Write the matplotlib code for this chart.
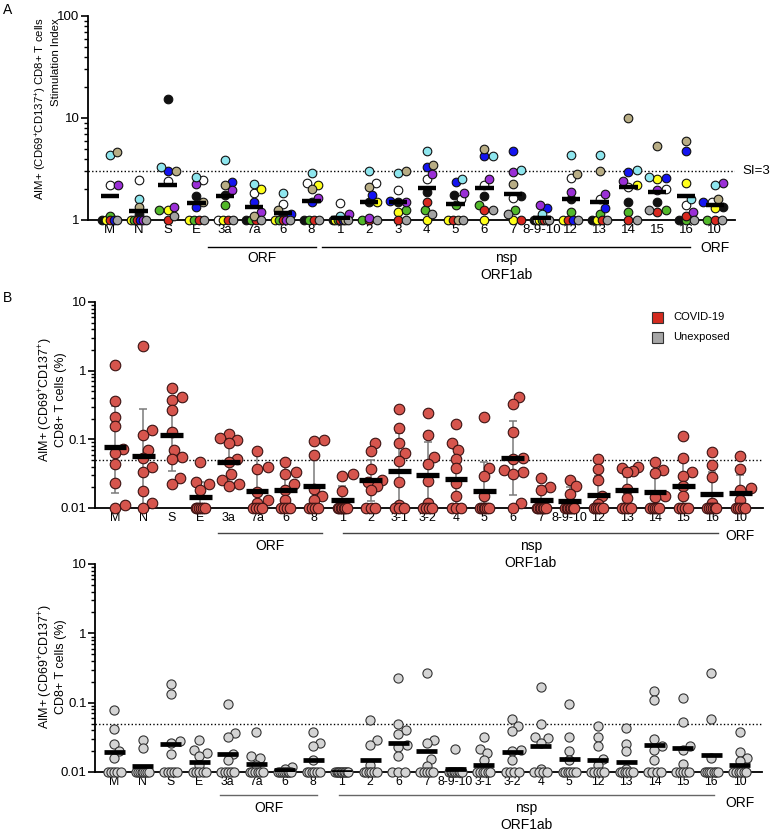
import numpy as np
import matplotlib
matplotlib.use('Agg')
import matplotlib.pyplot as plt
import matplotlib.transforms as mtrans
from matplotlib.patches import Rectangle
from matplotlib.ticker import LogLocator, NullFormatter

plt.rcParams['font.family'] = ['Liberation Sans', 'DejaVu Sans']
plt.rcParams['mathtext.fontset'] = 'custom'
plt.rcParams['mathtext.rm'] = 'Liberation Sans'
plt.rcParams['mathtext.it'] = 'Liberation Sans:italic'
plt.rcParams['mathtext.default'] = 'regular'

# ---------------- DATA ----------------
cats_A = ['M', 'N', 'S', 'E', '3a', '7a', '6', '8', '1', '2', '3', '4', '5', '6', '7',
          '8-9-10', '12', '13', '14', '15', '16', '10']
donor_colors = ['#111111', '#ffffff', '#ffff1a', '#52b82a', '#d8281e',
                '#1414f0', '#9a2fd6', '#8ee6ee', '#b8ad85', '#a3a3a3']
# stimulation index per donor (black, white, yellow, green, red, blue, purple, cyan, tan, gray)
si_black  = [1, 1.15, 15.5, 1.7, 1.75, 1, 1.1, 1, 1, 1.5, 1.5, 1.9, 1.75, 1.7, 1.7, 1, 1.6, 1, 1.5, 1.5, 1, 1.35]
si_white  = [2.2, 2.45, 2.4, 2.45, 1, 1.85, 1.45, 2.3, 1.48, 2.3, 1.95, 2.5, 1.6, 2.2, 1.65, 1, 2.6, 1.6, 2.1, 2.0, 1.4, 1.5]
si_yellow = [1, 1, 1.25, 1, 1, 2.0, 1, 2.2, 1, 1.5, 1.2, 1, 1, 1, 1, 1, 1, 1, 2.2, 2.55, 2.3, 1.3]
si_green  = [1.1, 1, 1.25, 1, 1.4, 1, 1, 1, 1, 1, 1.25, 1.25, 1.4, 1.4, 1.25, 1, 1.2, 1.15, 1.2, 1.25, 1, 1]
si_red    = [1, 1, 1, 1, 1, 1, 1, 1, 1, 1, 1, 1.5, 1, 1.25, 1, 1, 1, 1, 1, 1.2, 1.1, 1]
si_blue   = [1, 1, 3.0, 1.35, 2.35, 1.5, 1.15, 1.5, 1, 1.75, 1.55, 3.3, 2.35, 4.2, 4.7, 1.3, 1, 1.3, 2.95, 2.6, 4.8, 1.5]
si_purple = [2.2, 1, 1.35, 2.25, 1.95, 1.2, 1, 1.65, 1.15, 1.05, 1.5, 2.8, 1.85, 2.5, 2.95, 1.4, 1.9, 1.8, 2.4, 1.95, 1.2, 2.3]
si_cyan   = [4.3, 1.6, 3.3, 2.65, 3.9, 2.25, 1.85, 2.9, 1.1, 3.0, 2.9, 4.8, 2.5, 4.2, 3.1, 1.15, 4.3, 4.3, 3.1, 2.65, 1.6, 2.2]
si_tan    = [4.6, 1.35, 3.0, 1.5, 2.2, 1.1, 1.25, 2.0, 1, 2.1, 3.0, 3.5, 1, 5.0, 2.25, 1, 2.85, 3.0, 10.0, 5.3, 6.0, 1.6]
si_gray   = [1, 1, 1.1, 1, 1, 1, 1, 1, 1, 1, 1, 1.15, 1, 1.25, 1.15, 1, 1, 1, 1, 1.25, 1, 1]
bar_A = [1.7, 1.22, 2.2, 1.48, 1.7, 1.33, 1.16, 1.54, 1.05, 1.5, 1.5, 2.08, 1.45, 2.05,
         1.8, 1.05, 1.6, 1.5, 2.1, 1.9, 1.7, 1.4]

cats_B = ['M', 'N', 'S', 'E', '3a', '7a', '6', '8', '1', '2', '3-1', '3-2', '4', '5', '6',
          '7', '8-9-10', '12', '13', '14', '15', '16', '10']
covid_vals = [
    [1.2, 0.366, 0.214, 0.157, 0.072, 0.063, 0.0435, 0.023, 0.01, 0.011],
    [2.27, 0.137, 0.116, 0.070, 0.053, 0.040, 0.033, 0.0175, 0.012, 0.01],
    [0.55, 0.42, 0.38, 0.267, 0.13, 0.07, 0.055, 0.052, 0.027, 0.0225],
    [0.047, 0.024, 0.022, 0.018, 0.01, 0.01, 0.01, 0.01, 0.01, 0.01],
    [0.12, 0.104, 0.098, 0.088, 0.052, 0.046, 0.031, 0.026, 0.022, 0.021],
    [0.068, 0.040, 0.037, 0.017, 0.013, 0.012, 0.01, 0.01, 0.01, 0.01],
    [0.047, 0.033, 0.031, 0.022, 0.018, 0.013, 0.01, 0.01, 0.01, 0.01],
    [0.098, 0.093, 0.059, 0.019, 0.015, 0.013, 0.01, 0.01, 0.01, 0.01],
    [0.031, 0.029, 0.0175, 0.01, 0.01, 0.01, 0.01, 0.01, 0.01, 0.01],
    [0.088, 0.068, 0.037, 0.026, 0.024, 0.021, 0.018, 0.01, 0.01, 0.01],
    [0.28, 0.145, 0.088, 0.063, 0.049, 0.024, 0.011, 0.01, 0.01, 0.01],
    [0.24, 0.116, 0.055, 0.044, 0.025, 0.012, 0.01, 0.01, 0.01, 0.01],
    [0.167, 0.088, 0.070, 0.052, 0.038, 0.0235, 0.015, 0.01, 0.01, 0.01],
    [0.21, 0.038, 0.029, 0.015, 0.01, 0.01, 0.01, 0.01, 0.01, 0.01],
    [0.41, 0.33, 0.127, 0.053, 0.052, 0.036, 0.034, 0.031, 0.012, 0.01],
    [0.027, 0.0202, 0.018, 0.01, 0.01, 0.01, 0.01, 0.01, 0.01, 0.01],
    [0.026, 0.0206, 0.016, 0.01, 0.01, 0.01, 0.01, 0.01, 0.01, 0.01],
    [0.052, 0.037, 0.0258, 0.015, 0.0115, 0.01, 0.01, 0.01, 0.01, 0.01],
    [0.04, 0.038, 0.035, 0.033, 0.019, 0.014, 0.01, 0.01, 0.01, 0.01],
    [0.047, 0.036, 0.032, 0.015, 0.0145, 0.01, 0.01, 0.01, 0.01, 0.01],
    [0.11, 0.054, 0.034, 0.029, 0.0206, 0.015, 0.01, 0.01, 0.01, 0.01],
    [0.066, 0.043, 0.028, 0.012, 0.01, 0.01, 0.01, 0.01, 0.01, 0.01],
    [0.057, 0.037, 0.0195, 0.018, 0.013, 0.01, 0.01, 0.01, 0.01, 0.01],
]
bar_B = [0.078, 0.058, 0.116, 0.0145, 0.0475, 0.0175, 0.0185, 0.0206, 0.0132, 0.0258, 0.035,
         0.0305, 0.0264, 0.0178, 0.053, 0.013, 0.0125, 0.0154, 0.018, 0.0169, 0.021, 0.016, 0.0165]
err_hi_B = [0.305, 0.273, 0.353, 0.024, 0.1, 0.068, 0.047, 0.05, 0.0206, 0.05, 0.123, 0.09,
            0.072, 0.047, 0.188, 0.021, 0.02, 0.029, 0.028, 0.036, 0.047, 0.033, 0.03]
err_lo_B = [0.0165, 0.005, 0.035, 0.008, 0.0231, 0.005, 0.005, 0.005, 0.008, 0.0125, 0.005,
            0.005, 0.005, 0.005, 0.0153, 0.008, 0.008, 0.005, 0.005, 0.005, 0.005, 0.005, 0.005]

cats_C = ['M', 'N', 'S', 'E', '3a', '7a', '6', '8', '1', '2', '6', '7', '8-9-10', '3-1', '3-2',
          '4', '5', '12', '13', '14', '15', '16', '10']
unexp_vals = [
    [0.078, 0.042, 0.0253, 0.0198, 0.016, 0.01, 0.01, 0.01, 0.01, 0.01],
    [0.0286, 0.022, 0.01, 0.01, 0.01, 0.01, 0.01, 0.01, 0.01, 0.01],
    [0.188, 0.135, 0.028, 0.026, 0.0184, 0.01, 0.01, 0.01, 0.01, 0.01],
    [0.0286, 0.021, 0.019, 0.017, 0.0127, 0.01, 0.01, 0.01, 0.01, 0.01],
    [0.097, 0.037, 0.032, 0.0182, 0.015, 0.01, 0.01, 0.01, 0.01, 0.01],
    [0.0377, 0.0168, 0.016, 0.0127, 0.01, 0.01, 0.01, 0.01, 0.01, 0.01],
    [0.012, 0.011, 0.01, 0.01, 0.01, 0.01, 0.01, 0.01, 0.01, 0.01],
    [0.0377, 0.026, 0.0235, 0.015, 0.01, 0.01, 0.01, 0.01, 0.01, 0.01],
    [0.01, 0.01, 0.01, 0.01, 0.01, 0.01, 0.01, 0.01, 0.01, 0.01],
    [0.057, 0.0286, 0.0248, 0.0127, 0.01, 0.01, 0.01, 0.01, 0.01, 0.01],
    [0.228, 0.050, 0.0408, 0.0357, 0.0248, 0.0229, 0.0168, 0.01, 0.01, 0.01],
    [0.27, 0.0286, 0.026, 0.0154, 0.0123, 0.01, 0.01, 0.01, 0.01, 0.01],
    [0.0215, 0.01, 0.01, 0.01, 0.01, 0.01, 0.01, 0.01, 0.01, 0.01],
    [0.032, 0.0215, 0.0188, 0.015, 0.01, 0.01, 0.01, 0.01, 0.01, 0.01],
    [0.058, 0.0466, 0.0386, 0.021, 0.0198, 0.015, 0.01, 0.01, 0.01, 0.01],
    [0.168, 0.050, 0.032, 0.031, 0.026, 0.011, 0.01, 0.01, 0.01, 0.01],
    [0.097, 0.032, 0.0198, 0.015, 0.01, 0.01, 0.01, 0.01, 0.01, 0.01],
    [0.0455, 0.032, 0.0235, 0.0154, 0.0127, 0.01, 0.01, 0.01, 0.01, 0.01],
    [0.043, 0.0256, 0.0198, 0.011, 0.01, 0.01, 0.01, 0.01, 0.01, 0.01],
    [0.145, 0.11, 0.030, 0.0235, 0.0205, 0.0147, 0.01, 0.01, 0.01, 0.01],
    [0.117, 0.052, 0.024, 0.0205, 0.0132, 0.01, 0.01, 0.01, 0.01, 0.01],
    [0.27, 0.0588, 0.0159, 0.01, 0.01, 0.01, 0.01, 0.01, 0.01, 0.01],
    [0.0377, 0.0192, 0.0159, 0.0142, 0.01, 0.01, 0.01, 0.01, 0.01, 0.01],
]
bar_C = [0.0192, 0.0123, 0.0253, 0.0139, 0.0182, 0.0132, 0.0108, 0.0147, 0.01, 0.015, 0.026,
         0.0198, 0.011, 0.0128, 0.0192, 0.0235, 0.0156, 0.015, 0.0139, 0.0248, 0.0222, 0.0174, 0.0128]

# ---------------- LAYOUT ----------------
W, H = 770, 834
fig = plt.figure(figsize=(W / 100, H / 100), dpi=100)


def rect(l, t, r, b):
    return [l / W, 1 - b / H, (r - l) / W, (b - t) / H]


def offsets(vals, decade_px, diam, floor_half, max_half):
    vals = np.asarray(vals, float)
    y = np.log10(vals) * decade_px
    offs = np.zeros(len(vals))
    tied = np.zeros(len(vals), bool)
    uniq, counts = np.unique(vals, return_counts=True)
    for u, c in zip(uniq, counts):
        if c >= 3:
            idx = np.where(vals == u)[0]
            gap = min(0.9 * diam, 2 * floor_half / (c - 1))
            offs[idx] = (np.arange(c) - (c - 1) / 2) * gap
            tied[idx] = True
    free = [i for i in np.argsort(vals, kind='stable') if not tied[i]]
    placed = []
    d2 = (0.85 * diam) ** 2
    step = diam * 0.2
    for i in free:
        found = 0.0
        done = False
        for k in range(400):
            for c in ([0.0] if k == 0 else [k * step, -k * step]):
                if all((c - px) ** 2 + (y[i] - py) ** 2 >= d2 for px, py in placed):
                    found = c
                    done = True
                    break
            if done:
                break
        offs[i] = found
        placed.append((found, y[i]))
    if free:
        fi = np.array(free, int)
        m = np.abs(offs[fi]).max()
        if m > max_half:
            offs[fi] *= max_half / m
    return offs


def setup(ax, ylim, yticks, ylabels, cats, xlim, xsize):
    ax.patch.set_visible(False)
    ax.set_yscale('log')
    ax.set_ylim(*ylim)
    ax.set_xlim(*xlim)
    for s in ['top', 'right']:
        ax.spines[s].set_visible(False)
    for s in ['left', 'bottom']:
        ax.spines[s].set_linewidth(1.3)
    ax.set_yticks(yticks)
    ax.set_yticklabels(ylabels)
    ax.yaxis.set_minor_locator(LogLocator(base=10, subs=np.arange(2, 10)))
    ax.yaxis.set_minor_formatter(NullFormatter())
    ax.tick_params(axis='y', which='major', length=5, width=1.2, labelsize=9.5, pad=1)
    ax.tick_params(axis='y', which='minor', length=3, width=1.0)
    ax.set_xticks(range(len(cats)))
    ax.set_xticklabels(cats)
    ax.tick_params(axis='x', length=0, labelsize=xsize, pad=3)


def groups(ax, b_px, h_px, line_y, text_y, sub_y, spans, right_idx, right_y, lcolor):
    tr = mtrans.blended_transform_factory(ax.transData, ax.transAxes)
    ay = lambda p: (b_px - p) / h_px
    for (x0, x1, lab) in spans:
        ax.plot([x0, x1], [ay(line_y), ay(line_y)], color=lcolor, lw=1.0,
                transform=tr, clip_on=False)
        ax.text((x0 + x1) / 2, ay(text_y), lab, transform=tr, ha='center', va='center',
                fontsize=10, zorder=10)
    x0, x1, _ = spans[1]
    ax.text((x0 + x1) / 2, ay(sub_y), 'ORF1ab', transform=tr, ha='center', va='center',
            fontsize=10, zorder=10)
    ax.text(right_idx, ay(right_y), 'ORF', transform=tr, ha='center', va='center',
            fontsize=10, zorder=10)


# ---------- Panel A ----------
axA = fig.add_axes(rect(88, 16, 735, 220))
spA, decA = 28.8, 102.0
setup(axA, (1, 100), [1, 10, 100], ['1', '10', '100'], cats_A, (-0.76, 21.7), 9.5)
axA.axhline(3, color='k', lw=1.0, ls=(0, (1, 1.6)), zorder=1)
axA.text(1.012, np.log10(3) / 2, 'SI=3', transform=axA.transAxes, ha='left', va='center',
         fontsize=9.5)
donors = [si_black, si_white, si_yellow, si_green, si_red, si_blue, si_purple, si_cyan, si_tan, si_gray]
for j in range(len(cats_A)):
    vals = [d[j] for d in donors]
    off = offsets(vals, decA, 8.3, 7.5, 14) / spA
    for k, v in enumerate(vals):
        axA.plot(j + off[k], v, 'o', ms=6.2, mfc=donor_colors[k], mec='#111111', mew=0.8,
                 clip_on=False, zorder=3)
axA.hlines(bar_A, np.arange(len(cats_A)) - 0.32, np.arange(len(cats_A)) + 0.32,
           color='k', lw=3.2, zorder=5)
groups(axA, 220, 204, 247, 258, 275,
       [(4 - 0.6, 7 + 0.14, 'ORF'), (8 - 0.63, 20 + 0.14, 'nsp')], 21, 248, 'k')

# ---------- Panel B ----------
axB = fig.add_axes(rect(95, 302, 763, 508))
spB, decB = 28.4, 68.7
setup(axB, (0.01, 10), [0.01, 0.1, 1, 10], ['0.01', '0.1', '1', '10'], cats_B, (-0.70, 22.8), 9)
axB.axhline(0.05, color='k', lw=1.0, ls=(0, (1, 1.6)), zorder=1)
xB = np.arange(len(cats_B))
axB.errorbar(xB, bar_B, yerr=[np.array(bar_B) - np.array(err_lo_B),
                              np.array(err_hi_B) - np.array(bar_B)],
             fmt='none', ecolor='#7a7a7a', elinewidth=1.1, capsize=3, capthick=1.1, zorder=2)
for j, vals in enumerate(covid_vals):
    off = offsets(vals, decB, 10.5, 4.5, 11) / spB
    axB.plot(j + off, vals, 'o', ms=7.6, mfc='#d6554d', mec='#3a1212', mew=0.8,
             clip_on=False, zorder=3, ls='none')
axB.hlines(bar_B, xB - 0.4, xB + 0.4, color='k', lw=3.8, zorder=5)
groups(axB, 508, 206, 533, 546, 563,
       [(4 - 0.37, 7 + 0.29, 'ORF'), (8 + 0.03, 21 + 0.23, 'nsp')], 22, 536, '#444444')

# legend
for yc, col, lab in [(317, '#d42b1f', 'COVID-19'), (337, '#a6a6a6', 'Unexposed')]:
    fig.add_artist(Rectangle(((652) / W, 1 - (yc + 5.5) / H), 11 / W, 11 / H,
                             transform=fig.transFigure, facecolor=col, edgecolor='#333333',
                             lw=0.8))
    fig.text(673 / W, 1 - yc / H, lab, ha='left', va='center', fontsize=8)

# ---------- Panel C ----------
axC = fig.add_axes(rect(95, 564, 762, 772))
spC, decC = 28.45, 69.3
setup(axC, (0.01, 10), [0.01, 0.1, 1, 10], ['0.01', '0.1', '1', '10'], cats_C, (-0.67, 22.78), 8.8)
axC.axhline(0.05, color='k', lw=1.0, ls=(0, (1, 1.6)), zorder=1)
xC = np.arange(len(cats_C))
for j, vals in enumerate(unexp_vals):
    off = offsets(vals, decC, 9.0, 6.5, 11) / spC
    axC.plot(j + off, vals, 'o', ms=6.6, mfc='#d4d4d4', mec='#333333', mew=0.8,
             clip_on=False, zorder=3, ls='none')
axC.hlines(bar_C, xC - 0.37, xC + 0.37, color='k', lw=3.4, zorder=5)
groups(axC, 772, 208, 795, 808, 825,
       [(4 - 0.27, 7 + 0.14, 'ORF'), (8 - 0.09, 21 + 0.09, 'nsp')], 22, 803, '#666666')

# ---------- labels ----------
fig.text(41 / W, 1 - 18 / H, r'AIM+ (CD69$^{+}$CD137$^{+}$) CD8+ T cells', rotation=90,
         ha='center', va='top', fontsize=8.2)
fig.text(56 / W, 1 - 18 / H, 'Stimulation Index', rotation=90, ha='center', va='top',
         fontsize=8.2)
for yc in [400, 667]:
    fig.text(52 / W, 1 - yc / H, 'AIM+ (CD69$^{+}$CD137$^{+}$)\nCD8+ T cells (%)', rotation=90,
             ha='center', va='center', multialignment='center', fontsize=9, linespacing=1.0)
fig.text(3 / W, 1 - 10 / H, 'A', ha='left', va='center', fontsize=10)
fig.text(3 / W, 1 - 298 / H, 'B', ha='left', va='center', fontsize=10)

fig.savefig('out.png', dpi=100)
